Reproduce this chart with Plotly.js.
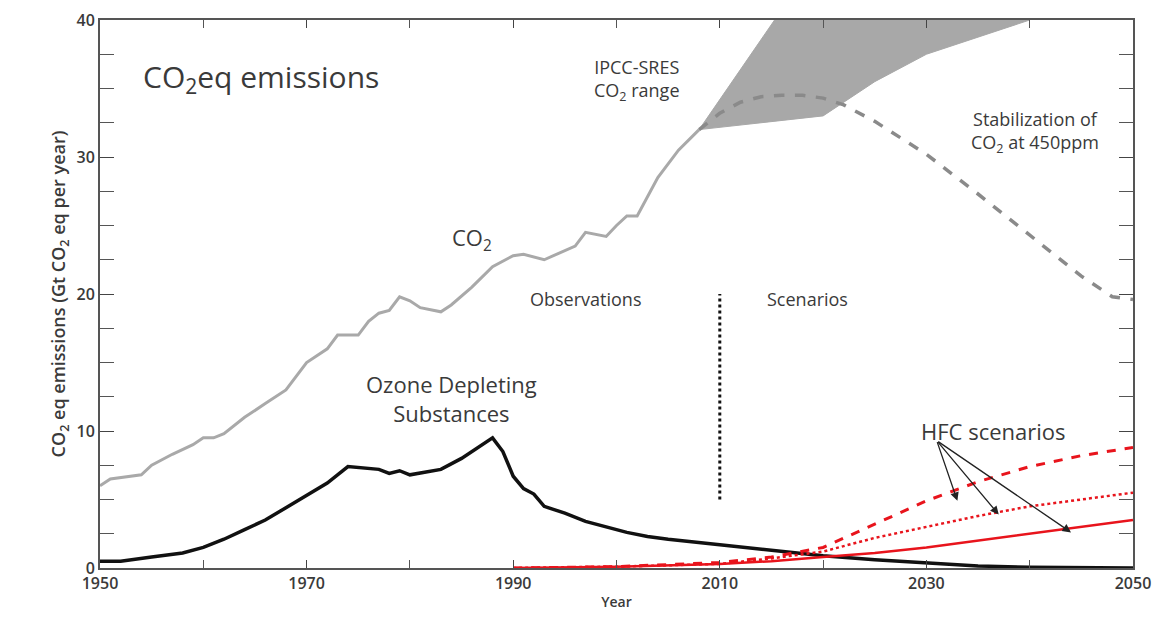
<!DOCTYPE html>
<html>
<head>
<meta charset="utf-8">
<script src="https://cdn.plot.ly/plotly-3.0.1.min.js"></script>
<style>body{margin:0;background:#fff}#chart{width:1160px;height:624px}</style>
</head>
<body>
<div id="chart"></div>
<script>
// CO2 observations
const co2Years = [1950,1951,1954,1955,1957,1959,1960,1961,1962,1964,1966,1968,1970,1972,1973,1975,1976,1977,1978,1979,1980,1981,1983,1984,1986,1988,1990,1991,1993,1996,1997,1999,2000,2001,2002,2004,2006,2008];
const co2Vals = [6.0,6.5,6.8,7.5,8.3,9.0,9.5,9.5,9.8,11,12,13,15,16,17,17,18,18.6,18.8,19.8,19.5,19,18.7,19.2,20.5,22,22.8,22.9,22.5,23.5,24.5,24.2,25,25.7,25.7,28.5,30.5,32];

// IPCC-SRES range (polygon, clipped at 40)
const sresYears = [2008,2015.3,2040,2030,2025,2020,2008];
const sresVals = [32,40,40,37.5,35.5,33,32];

// stabilization at 450ppm
const stabYears = [2008,2010,2012,2014,2016,2018,2020,2022,2025,2030,2035,2040,2045,2048,2050];
const stabVals = [32,33.2,34,34.4,34.5,34.5,34.3,33.8,32.6,30.2,27.3,24.3,21.3,19.8,19.6];

// ozone depleting substances
const odsYears = [1950,1952,1955,1957,1958,1960,1962,1964,1966,1968,1970,1972,1974,1976,1977,1978,1979,1980,1982,1983,1985,1986,1988,1989,1990,1991,1992,1993,1995,1997,1999,2001,2003,2005,2010,2015,2020,2025,2030,2035,2040,2050];
const odsVals = [0.5,0.5,0.8,1.0,1.1,1.5,2.1,2.8,3.5,4.4,5.3,6.2,7.4,7.3,7.2,6.9,7.1,6.8,7.1,7.2,8.0,8.5,9.5,8.5,6.7,5.8,5.4,4.5,4.0,3.4,3.0,2.6,2.3,2.1,1.7,1.3,0.9,0.6,0.35,0.15,0.05,0];

// HFC scenarios
const hfcYears = [1990,2000,2010,2015,2020,2025,2030,2035,2040,2045,2050];
const hfcHigh = [0,0.1,0.4,0.8,1.5,3.2,4.9,6.3,7.4,8.2,8.8];
const hfcMid = [0,0.1,0.3,0.7,1.2,2.2,3.0,3.8,4.5,5.0,5.5];
const hfcLow = [0,0.1,0.3,0.5,0.8,1.1,1.5,2.0,2.5,3.0,3.5];

const txt = '#3a3a3a';
const traces = [
  {x: sresYears, y: sresVals, mode: 'lines', fill: 'toself', fillcolor: '#a8a8a8', line: {color: '#a8a8a8', width: 1}},
  {x: co2Years, y: co2Vals, mode: 'lines', line: {color: '#a9a9a9', width: 3}},
  {x: stabYears, y: stabVals, mode: 'lines', line: {color: '#8a8a8a', width: 3.5, dash: 'dash'}},
  {x: odsYears, y: odsVals, mode: 'lines', line: {color: '#111', width: 3.5}},
  {x: hfcYears, y: hfcHigh, mode: 'lines', line: {color: '#e8141c', width: 3, dash: 'dash'}},
  {x: hfcYears, y: hfcMid, mode: 'lines', line: {color: '#e8141c', width: 2.5, dash: 'dot'}},
  {x: hfcYears, y: hfcLow, mode: 'lines', line: {color: '#e8141c', width: 2.5}},
  {x: [2010, 2010], y: [5, 20], mode: 'lines', line: {color: '#111', width: 3, dash: 'dot'}}
];

const font = {family: 'Open Sans, sans-serif', color: txt};
const ann = (x, y, text, size, extra) => Object.assign({x, y, text, showarrow: false, font: Object.assign({}, font, {size})}, extra || {});
const arrow = (ax, ay) => ({x: ax, y: ay, ax: 2031, ay: 9.3, axref: 'x', ayref: 'y', text: '', showarrow: true, arrowhead: 2, arrowsize: 1.3, arrowwidth: 1.3, arrowcolor: '#222'});

const layout = {
  width: 1160, height: 624,
  margin: {l: 100, r: 27, t: 20, b: 56},
  showlegend: false,
  paper_bgcolor: '#fff', plot_bgcolor: '#fff',
  font: font,
  xaxis: {
    range: [1950, 2050], tickvals: [1950,1970,1990,2010,2030,2050], ticks: 'inside', ticklen: 8,
    minor: {dtick: 10, ticks: 'inside', ticklen: 8, tickcolor: '#555'},
    showgrid: false, zeroline: false, showline: true, mirror: 'ticks', linecolor: '#555', linewidth: 2,
    tickfont: {size: 16, color: txt, weight: 600},
    title: {text: 'Year', font: {size: 14, color: txt, weight: 600}, standoff: 4}
  },
  yaxis: {
    range: [0, 40], tickvals: [0,10,20,30,40], ticks: 'inside', ticklen: 14,
    minor: {dtick: 2.5, ticks: 'inside', ticklen: 14, tickcolor: '#555'},
    showgrid: false, zeroline: false, showline: true, mirror: 'ticks', linecolor: '#555', linewidth: 2,
    tickfont: {size: 16, color: txt, weight: 600},
    title: {text: 'CO<sub>2</sub> eq emissions (Gt CO<sub>2</sub> eq per year)', font: {size: 18, color: txt, weight: 600}, standoff: 6}
  },
  annotations: [
    ann(1954, 35.8, 'CO<sub>2</sub>eq emissions', 30, {xanchor: 'left'}),
    ann(2002, 35.6, 'IPCC-SRES<br>CO<sub>2</sub> range', 18),
    ann(2040.5, 31.8, 'Stabilization of<br>CO<sub>2</sub> at 450ppm', 18),
    ann(1986, 24, 'CO<sub>2</sub>', 22),
    ann(1997, 19.6, 'Observations', 18),
    ann(2018.5, 19.6, 'Scenarios', 18),
    ann(1984, 12.4, 'Ozone Depleting<br>Substances', 22),
    ann(2036.5, 10, 'HFC scenarios', 22),
    arrow(2033, 4.9), arrow(2037, 3.9), arrow(2044, 2.6)
  ]
};

Plotly.newPlot('chart', traces, layout, {displayModeBar: false});
</script>
</body>
</html>
